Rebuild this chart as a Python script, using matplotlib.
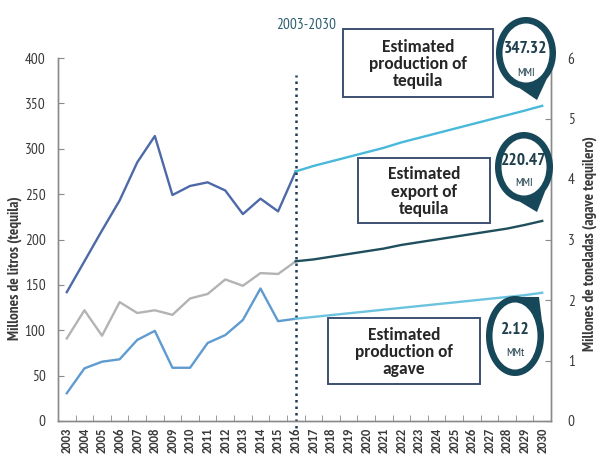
import numpy as np
import matplotlib
matplotlib.use("Agg")
import matplotlib.pyplot as plt
from matplotlib.transforms import Affine2D
from matplotlib.patches import Polygon, Ellipse, Rectangle

W, H = 607, 475

# ---------------- data ----------------
years_hist = list(range(2003, 2017))
years_proj = list(range(2016, 2031))
all_years = list(range(2003, 2031))

tequila_prod_hist = [142, 176, 210, 243, 285, 314, 249, 259, 263, 254, 228, 245, 231, 275]
tequila_export_hist = [91, 122, 94, 131, 119, 122, 117, 135, 140, 156, 149, 163, 162, 176]
agave_prod_hist = [0.46, 0.87, 0.98, 1.02, 1.34, 1.49, 0.88, 0.88, 1.29, 1.42, 1.67, 2.19, 1.65, 1.69]

tequila_prod_proj = [275, 281, 286, 291, 296, 301, 307, 312, 317, 322, 327, 332, 337, 342, 347.32]
tequila_export_proj = [176, 178, 181, 184, 187, 190, 194, 197, 200, 203, 206, 209, 212, 216, 220.47]
agave_prod_proj = [1.69, 1.72, 1.75, 1.78, 1.81, 1.84, 1.87, 1.90, 1.93, 1.96, 1.99, 2.02, 2.05, 2.08, 2.12]

left_ticks = [0, 50, 100, 150, 200, 250, 300, 350, 400]
right_ticks = [0, 1, 2, 3, 4, 5, 6]

callout_boxes = ["Estimated\nproduction of\ntequila", "Estimated\nexport of\ntequila", "Estimated\nproduction of\nagave"]
bubble_values = ["347.32", "220.47", "2.12"]
bubble_units = ["MMI", "MMI", "MMt"]

# ---------------- style ----------------
NARROW = ['PT Sans Narrow', 'DejaVu Sans']
CAL = ['Carlito', 'DejaVu Sans']
TEAL = '#17485a'
SPINE = '#8a8a8a'
TXT = '#3a3a3a'

fig = plt.figure(figsize=(W / 100, H / 100), dpi=100)
ax = fig.add_axes([58 / W, 1 - 421 / H, (551 - 58) / W, (421 - 58) / H])
ax2 = ax.twinx()

ax.set_xlim(2002.5, 2030.5)
ax.set_ylim(0, 400)
ax2.set_ylim(0, 6)

ax.plot(years_hist, tequila_prod_hist, color='#4d69a8', lw=1.7, zorder=3)
ax.plot(years_hist, tequila_export_hist, color='#b3b3b3', lw=1.7, zorder=3)
ax.plot(years_proj, tequila_prod_proj, color='#48b9da', lw=1.7, zorder=3)
ax.plot(years_proj, tequila_export_proj, color='#1f4f5c', lw=1.7, zorder=3)
ax2.plot(years_hist, agave_prod_hist, color='#5d9bd0', lw=1.7, zorder=3)
ax2.plot(years_proj, agave_prod_proj, color='#6cc3e0', lw=1.7, zorder=3)

# dotted separator
ax.plot([2016, 2016], [-8, 381], color='#1f3d55', lw=1.8, ls=(0, (1, 1.6)),
        clip_on=False, zorder=4)

for a in (ax, ax2):
    a.spines['top'].set_visible(False)
    for s in ('left', 'right', 'bottom'):
        a.spines[s].set_color(SPINE)
        a.spines[s].set_linewidth(1.0)

ax.set_yticks(left_ticks)
ax.set_yticklabels([str(t) for t in left_ticks], family=NARROW, fontsize=11, color=TXT)
ax.tick_params(axis='y', direction='in', length=4, color=SPINE, pad=9)
ax2.set_yticks(right_ticks)
ax2.set_yticklabels([str(t) for t in right_ticks], family=NARROW, fontsize=11, color=TXT)
ax2.tick_params(axis='y', direction='in', length=4, color=SPINE, pad=12)

ax.set_xticks(all_years)
ax.set_xticklabels([str(y) for y in all_years], rotation=90, family=CAL,
                   fontsize=9, fontweight='bold', color=TXT)
ax.tick_params(axis='x', which='major', length=0, pad=5)
ax.set_xticks([y + 0.5 for y in all_years[:-1]], minor=True)
ax.tick_params(axis='x', which='minor', direction='in', length=4, color=SPINE)

ax.set_ylabel("Millones de litros (tequila)", family=NARROW, fontsize=11,
              fontweight='bold', color=TXT)
ax.yaxis.set_label_coords(-0.074, 0.42)
ax2.set_ylabel("Millones de toneladas (agave tequilero)", family=NARROW, fontsize=11,
               fontweight='bold', color=TXT)
ax2.yaxis.set_label_coords(1.064, 0.49)

# pixel transform (origin top-left)
px = Affine2D().scale(1 / W, -1 / H).translate(0, 1) + fig.transFigure

fig.text(306 / W, 1 - 25 / H, "2003-2030", family=NARROW, fontsize=11,
         color='#2c5f6e', ha='center', va='center')

# callout boxes
boxes = [(343, 29, 493, 97), (358, 158, 490, 223), (328, 318, 480, 384)]
for (x0, y0, x1, y1), txt in zip(boxes, callout_boxes):
    r = Rectangle((x0, y0), x1 - x0, y1 - y0, transform=px, facecolor='white',
                  edgecolor='#3d5070', lw=1.4, zorder=10)
    fig.add_artist(r)
    fig.text((x0 + x1) / 2 / W, 1 - ((y0 + y1) / 2 + 1) / H, txt, ha='center', va='center',
             family=CAL, fontsize=12.5, fontweight='bold',
             color='#262626', linespacing=1.1, zorder=11)

# bubbles: center, semi-axes, tip, text y positions
bubbles = [((526, 53), 30, 36, (537, 100), 49, 73),
           ((524, 167), 29, 35, (537, 212), 161, 183),
           ((515, 336), 29, 40, (539, 297), 330, 353)]
for ((cx, cy), a, b, (tx, ty), tyv, tyu), val, unit in zip(bubbles, bubble_values, bubble_units):
    theta = np.arctan2((ty - cy) / b, (tx - cx) / a)
    spread = np.radians(28)
    t = np.linspace(theta + spread, theta + 2 * np.pi - spread, 120)
    pts = np.column_stack([cx + a * np.cos(t), cy + b * np.sin(t)])
    pts = np.vstack([pts, [tx, ty]])
    fig.add_artist(Polygon(pts, closed=True, transform=px, facecolor=TEAL,
                           edgecolor='none', zorder=12))
    fig.add_artist(Ellipse((cx, cy), 2 * (a - 6.5), 2 * (b - 6.5), transform=px,
                           facecolor='white', edgecolor='none', zorder=13))
    fig.text(cx / W, 1 - tyv / H, val, ha='center', va='center', family=NARROW,
             fontsize=12.5, fontweight='bold', color='#1f3f4d', zorder=14)
    fig.text(cx / W, 1 - tyu / H, unit, ha='center', va='center', family=NARROW,
             fontsize=8.5, color='#1f3f4d', zorder=14)

fig.savefig("out.png", dpi=100, facecolor='white')
